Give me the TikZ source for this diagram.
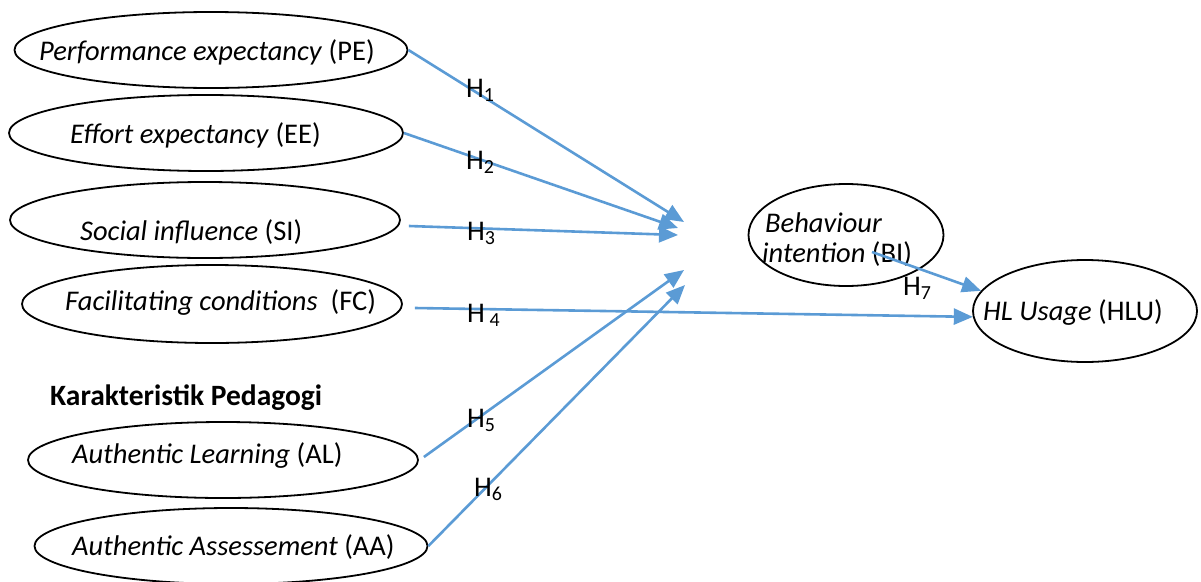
\documentclass[tikz,border=0pt]{standalone}
\usepackage{fontspec}
\setmainfont{Carlito}
\usetikzlibrary{arrows.meta,shapes.geometric}

\definecolor{hypblue}{RGB}{91,155,213}

\begin{document}
\begin{tikzpicture}[x=1pt, y=-1pt,
		construct/.style={draw, ellipse, line width=1.8pt, inner sep=0pt},
		caption/.style={inner sep=0pt, anchor=base west, font=\fontsize{28.5}{30}\selectfont},
		hyp/.style={draw=hypblue, line width=2.6pt, -{Triangle[length=19pt,width=16pt]}}]
		\useasboundingbox (0,0) rectangle (1201,581);
		% constructs
		\node [construct, minimum width=393pt, minimum height=76pt] (pe) at (211,50) {};
		\node [construct, minimum width=394pt, minimum height=76pt] (ee) at (206,133) {};
		\node [construct, minimum width=390pt, minimum height=76pt] (si) at (205,220) {};
		\node [construct, minimum width=380pt, minimum height=78pt] (fc) at (212,304) {};
		\node [construct, minimum width=390pt, minimum height=76pt] (al) at (223,460) {};
		\node [construct, minimum width=393pt, minimum height=76pt] (aa) at (231,546) {};
		\node [construct, minimum width=195pt, minimum height=102pt] (bi) at (846,235) {};
		\node [construct, minimum width=224pt, minimum height=102pt] (hlu) at (1085,311) {};
		% texts
		\node [caption] (pe-t) at (39,60) {\textit{Performance expectancy} (PE)};
		\node [caption] (ee-t) at (70,143) {\textit{Effort expectancy} (EE)};
		\node [caption] (si-t) at (80,240) {\textit{Social influence} (SI)};
		\node [caption] (fc-t) at (65,310) {\textit{Facilitating conditions}~~(FC)};
		\node [caption, font=\fontsize{29.5}{30}\selectfont] (kp-t) at (50,405) {\textbf{Karakteristik Pedagogi}};
		\node [caption] (al-t) at (72,463) {\textit{Authentic Learning} (AL)};
		\node [caption] (aa-t) at (72,555) {\textit{Authentic Assessement} (AA)};
		\node [caption, align=left] (bi-t) at (762,262) {\hspace{3pt}\textit{Behaviour}\\\textit{intention} (BI)};
		\node [caption] (hlu-t) at (983,320) {\textit{HL Usage} (HLU)};
		% free ends
		\coordinate (in1) at (684,222);
		\coordinate (in2) at (678,228);
		\coordinate (in3) at (678,235);
		\coordinate (in5) at (684,270);
		\coordinate (in6) at (685,285);
		\coordinate (bi-out) at (872,252);
		% hypotheses
		\path
			(pe.east) edge [hyp] (in1)
			(ee.east) edge [hyp] (in2)
			([xshift=8pt,yshift=-6pt]si.east) edge [hyp] (in3)
			([xshift=12pt,yshift=-4pt]fc.east) edge [hyp] (hlu.183)
			([xshift=5pt,yshift=3pt]al.east) edge [hyp] (in5)
			(aa.east) edge [hyp] (in6)
			(bi-out) edge [hyp] (hlu.169);
		\node [caption] (h1) at (466,97) {H\textsubscript{1}};
		\node [caption] (h2) at (466,169) {H\textsubscript{2}};
		\node [caption] (h3) at (467,240) {H\textsubscript{3}};
		\node [caption] (h4) at (467,322) {H\,\textsubscript{4}};
		\node [caption] (h5) at (467,427) {H\textsubscript{5}};
		\node [caption] (h6) at (474,496) {H\textsubscript{6}};
		\node [caption] (h7) at (903,295) {H\textsubscript{7}};
	\end{tikzpicture}
\end{document}
